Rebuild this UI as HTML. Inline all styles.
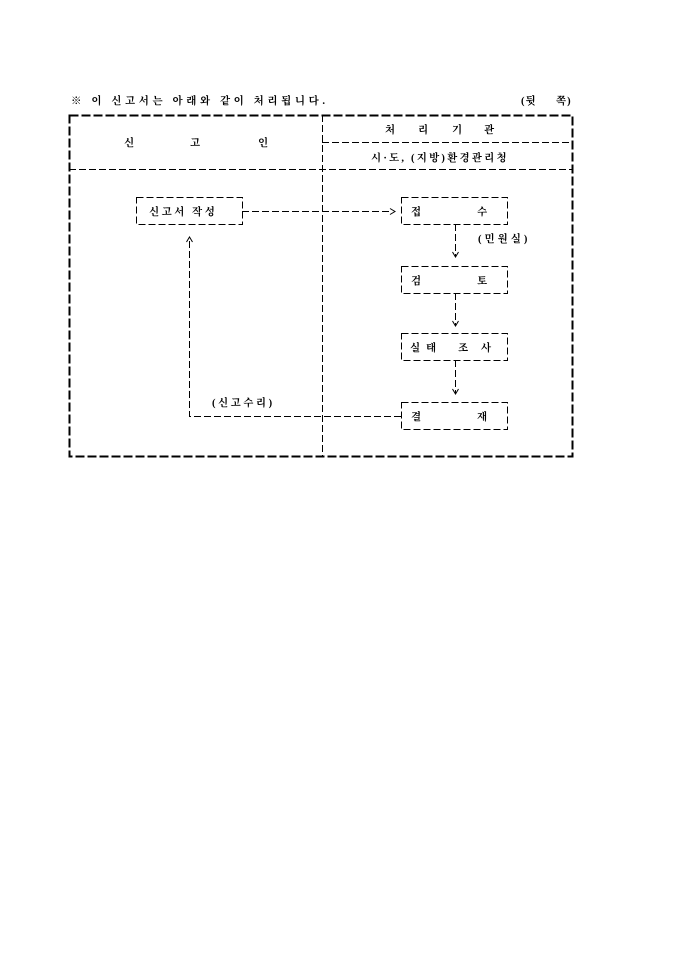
<!DOCTYPE html>
<html><head><meta charset="utf-8">
<style>
html,body{margin:0;padding:0;background:#fff;width:680px;height:962px;overflow:hidden}
svg text{font-family:"Liberation Serif","Noto Serif CJK SC","Noto Sans CJK KR",serif;font-weight:bold;fill:#000}
</style></head><body>
<svg width="680" height="962" xmlns="http://www.w3.org/2000/svg">
<g font-size="10.5">
<text x="71" y="104" letter-spacing="3.6">※ 이 신고서는 아래와 같이 처리됩니다.</text>
<text x="521" y="104" letter-spacing="1">(뒷</text>
<text x="556" y="104" letter-spacing="1">쪽)</text>
</g>
<rect x="69.5" y="115.5" width="503" height="341" fill="none" stroke="#000" stroke-width="2" stroke-dasharray="9,3"/>
<g stroke="#000" stroke-width="1" fill="none" stroke-dasharray="7,3">
<line x1="322.5" y1="115" x2="322.5" y2="457"/>
<line x1="69" y1="169.5" x2="573" y2="169.5"/>
<line x1="322" y1="142.5" x2="573" y2="142.5"/>
<rect x="136.5" y="197.5" width="106" height="27"/>
<rect x="401.5" y="197.5" width="106" height="27"/>
<rect x="401.5" y="266.5" width="106" height="27"/>
<rect x="401.5" y="333.5" width="106" height="27"/>
<rect x="401.5" y="402.5" width="106" height="27"/>
<line x1="242" y1="211.5" x2="392" y2="211.5"/>
<line x1="455.5" y1="224" x2="455.5" y2="256"/>
<line x1="455.5" y1="293" x2="455.5" y2="325"/>
<line x1="455.5" y1="360" x2="455.5" y2="393"/>
<polyline points="401,416.5 189.5,416.5 189.5,240"/>
</g>
<g stroke="#000" stroke-width="1" fill="none">
<polyline points="390,208.5 395,211.5 390,214.5"/>
<polyline points="452.5,252 455.5,257 458.5,252"/>
<polyline points="452.5,321 455.5,326 458.5,321"/>
<polyline points="452.5,389 455.5,394 458.5,389"/>
<polyline points="186.5,242 189.5,237 192.5,242"/>
</g>
<g font-size="10.5">
<text x="124" y="146">신</text>
<text x="190" y="146">고</text>
<text x="258" y="146">인</text>
<text x="385" y="133">처</text>
<text x="418" y="133">리</text>
<text x="452" y="133">기</text>
<text x="484" y="133">관</text>
<text x="371" y="161" letter-spacing="2.2">시·도, (지방)환경관리청</text>
<text x="149" y="215" letter-spacing="2.5">신고서 작성</text>
<text x="411" y="215">접</text>
<text x="477" y="215">수</text>
<text x="478" y="242" letter-spacing="3">(민원실)</text>
<text x="411" y="284">검</text>
<text x="477" y="284">토</text>
<text x="410" y="351">실</text>
<text x="426" y="351">태</text>
<text x="458" y="351">조</text>
<text x="481" y="351">사</text>
<text x="411" y="420">결</text>
<text x="477" y="420">재</text>
<text x="212" y="406" letter-spacing="2.5">(신고수리)</text>
</g>
</svg>
</body></html>
